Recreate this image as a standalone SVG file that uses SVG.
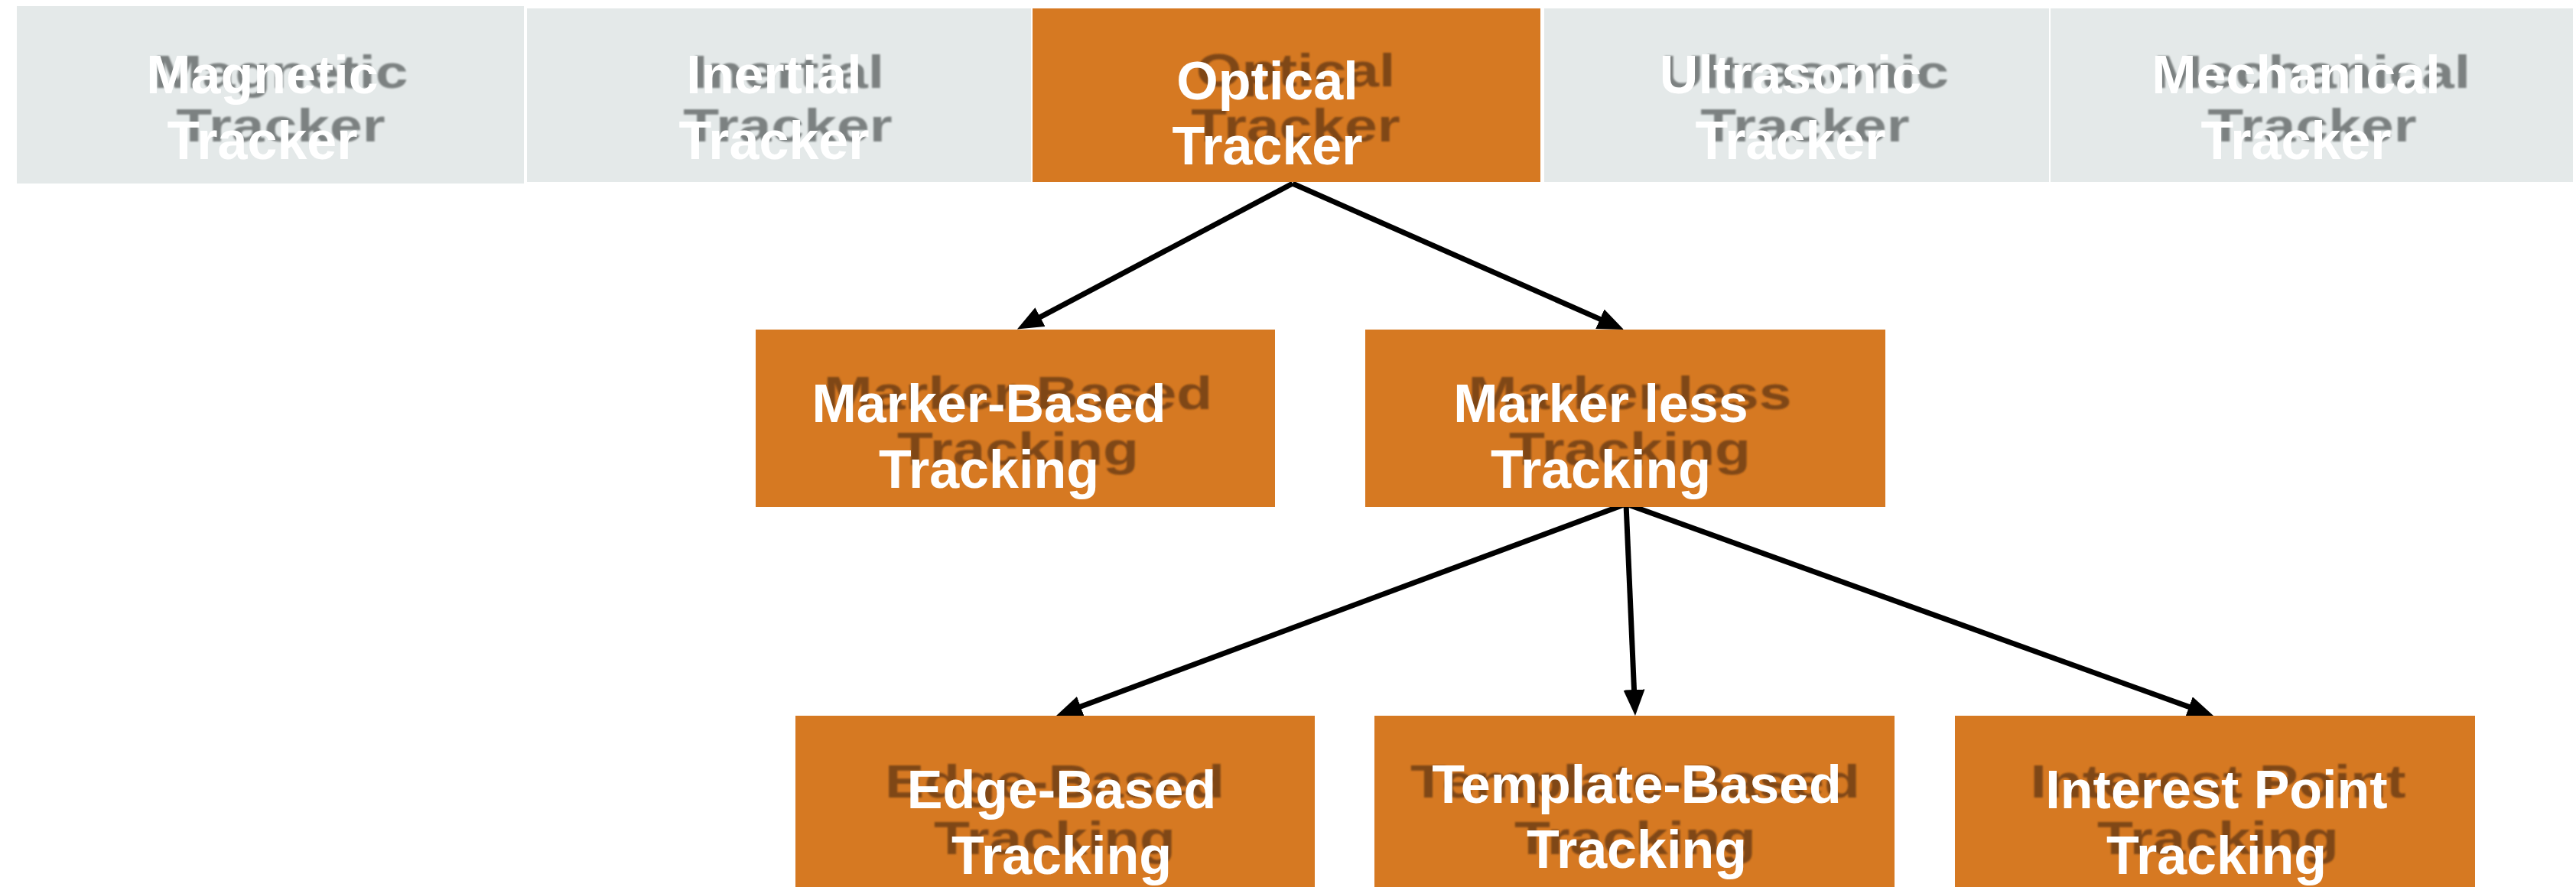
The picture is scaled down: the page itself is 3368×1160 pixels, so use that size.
<svg xmlns="http://www.w3.org/2000/svg" width="3368" height="1160" viewBox="0 0 3368 1160">
<style>
.g{fill:#E4E9E9}
.o{fill:#D67922}
.w{font-family:"Liberation Sans",Arial,sans-serif;font-weight:bold;font-size:70px;fill:#FFFFFF;text-anchor:middle}
.sg{font-family:"Liberation Sans",Arial,sans-serif;font-weight:bold;font-size:61px;fill:#7C8181;text-anchor:middle;filter:url(#soft)}
.so{font-family:"Liberation Sans",Arial,sans-serif;font-weight:bold;font-size:61px;fill:#7F4618;text-anchor:middle;filter:url(#soft)}
.c{stroke:#000;stroke-width:7;fill:none;marker-end:url(#ah)}
</style>
<defs>
<filter id="soft" x="-5%" y="-20%" width="110%" height="140%"><feGaussianBlur stdDeviation="1"/></filter>
<marker id="ah" markerUnits="userSpaceOnUse" markerWidth="34" markerHeight="28" viewBox="0 0 34 28" refX="2" refY="14" orient="auto"><path d="M0,0 L34,14 L0,28 z" fill="#000"/></marker>
</defs>
<rect width="3368" height="1160" fill="#FFFFFF"/>
<g id="connectors">
<line class="c" x1="1690" y1="240" x2="1358.2" y2="415.6"/>
<line class="c" x1="1690" y1="240" x2="2093.7" y2="418.1"/>
<line class="c" x1="2126" y1="659" x2="1411.0" y2="924.8"/>
<line class="c" x1="2126" y1="659" x2="2136.6" y2="904"/>
<line class="c" x1="2126" y1="659" x2="2863.9" y2="925.1"/>
</g>
<g id="magnetic">
<rect class="g" x="22" y="8" width="663" height="232"/>
<text class="sg" transform="translate(367,115) scale(1.26,1)">Magnetic</text>
<text class="sg" transform="translate(367,185) scale(1.26,1)">Tracker</text>
<text class="w" x="343" y="122">Magnetic</text>
<text class="w" x="343" y="208">Tracker</text>
</g>
<g id="inertial">
<rect class="g" x="689" y="11" width="659" height="227"/>
<text class="sg" transform="translate(1030,115) scale(1.26,1)">Inertial</text>
<text class="sg" transform="translate(1030,185) scale(1.26,1)">Tracker</text>
<text class="w" x="1012" y="122">Inertial</text>
<text class="w" x="1012" y="208">Tracker</text>
</g>
<g id="optical">
<rect class="o" x="1350" y="11" width="664" height="227"/>
<text class="so" transform="translate(1694,113) scale(1.26,1)">Optical</text>
<text class="so" transform="translate(1694,185) scale(1.26,1)">Tracker</text>
<text class="w" x="1657" y="130">Optical</text>
<text class="w" x="1657" y="215">Tracker</text>
</g>
<g id="ultrasonic">
<rect class="g" x="2019" y="11" width="660" height="227"/>
<text class="sg" transform="translate(2360,115) scale(1.26,1)">Ultrasonic</text>
<text class="sg" transform="translate(2360,185) scale(1.26,1)">Tracker</text>
<text class="w" x="2341" y="122">Ultrasonic</text>
<text class="w" x="2341" y="208">Tracker</text>
</g>
<g id="mechanical">
<rect class="g" x="2681" y="11" width="683" height="227"/>
<text class="sg" transform="translate(3023,115) scale(1.26,1)">Mechanical</text>
<text class="sg" transform="translate(3023,185) scale(1.26,1)">Tracker</text>
<text class="w" x="3002" y="122">Mechanical</text>
<text class="w" x="3002" y="208">Tracker</text>
</g>
<g id="marker-based">
<rect class="o" x="988" y="431" width="679" height="232"/>
<text class="so" transform="translate(1331,535) scale(1.26,1)">Marker-Based</text>
<text class="so" transform="translate(1331,608) scale(1.26,1)">Tracking</text>
<text class="w" x="1293" y="552">Marker-Based</text>
<text class="w" x="1293" y="638">Tracking</text>
</g>
<g id="markerless">
<rect class="o" x="1785" y="431" width="680" height="232"/>
<text class="so" transform="translate(2131,535) scale(1.26,1)">Marker less</text>
<text class="so" transform="translate(2131,608) scale(1.26,1)">Tracking</text>
<text class="w" x="2093" y="552">Marker less</text>
<text class="w" x="2093" y="638">Tracking</text>
</g>
<g id="edge-based">
<rect class="o" x="1040" y="936" width="679" height="230"/>
<text class="so" transform="translate(1379,1043) scale(1.26,1)">Edge-Based</text>
<text class="so" transform="translate(1379,1117) scale(1.26,1)">Tracking</text>
<text class="w" x="1388" y="1057">Edge-Based</text>
<text class="w" x="1388" y="1143">Tracking</text>
</g>
<g id="template-based">
<rect class="o" x="1797" y="936" width="680" height="230"/>
<text class="so" transform="translate(2138,1043) scale(1.26,1)">Template-Based</text>
<text class="so" transform="translate(2138,1117) scale(1.26,1)">Tracking</text>
<text class="w" x="2140" y="1050">Template-Based</text>
<text class="w" x="2140" y="1135">Tracking</text>
</g>
<g id="interest-point">
<rect class="o" x="2556" y="936" width="680" height="230"/>
<text class="so" transform="translate(2900,1043) scale(1.26,1)">Interest Point</text>
<text class="so" transform="translate(2900,1117) scale(1.26,1)">Tracking</text>
<text class="w" x="2898" y="1057">Interest Point</text>
<text class="w" x="2898" y="1143">Tracking</text>
</g>
</svg>
